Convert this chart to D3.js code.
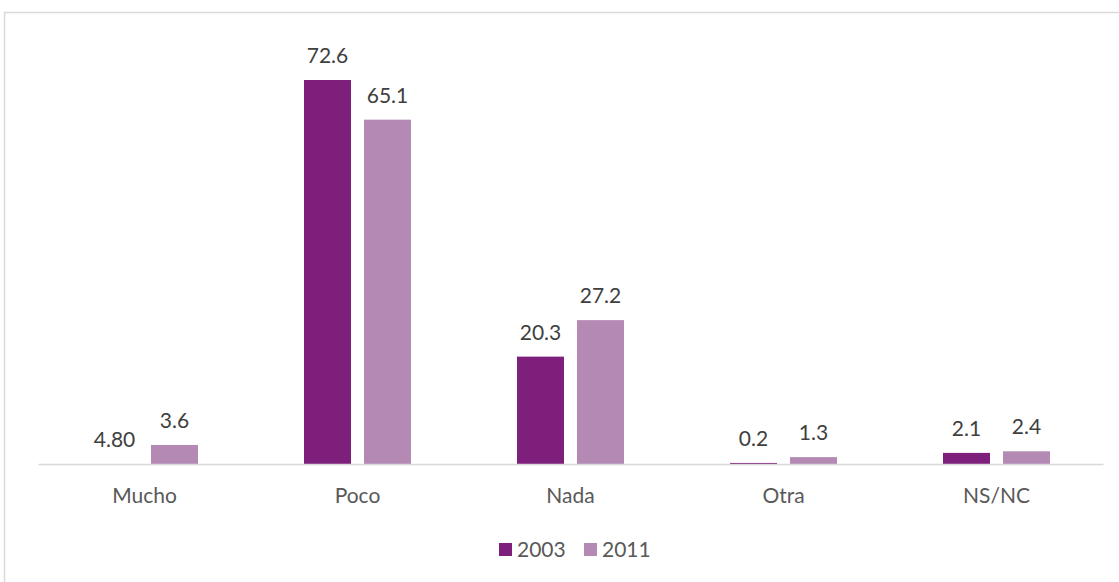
<!DOCTYPE html>
<html><head><meta charset="utf-8">
<script src="https://cdn.jsdelivr.net/npm/d3@7"></script>
<style>body{margin:0;background:#fff}svg{display:block}</style>
</head><body>
<svg id="chart" width="1119" height="582"></svg>
<script>
const categories = ["Mucho", "Poco", "Nada", "Otra", "NS/NC"];
const seriesNames = ["2003", "2011"];
const values2003 = [0, 72.6, 20.3, 0.2, 2.1];
const values2011 = [3.6, 65.1, 27.2, 1.3, 2.4];
const labels2003 = ["4.80", "72.6", "20.3", "0.2", "2.1"];
const labels2011 = ["3.6", "65.1", "27.2", "1.3", "2.4"];
const colors = ["#7F1F7C", "#B48AB5"];

(function () {
const svg = d3.select("#chart");
const font = "Lato, 'Open Sans', sans-serif";

svg.append("rect").attr("x", 4.5).attr("y", 12.5).attr("width", 1130).attr("height", 600)
  .attr("fill", "none").attr("stroke", "#d9d9d9").attr("stroke-width", 1.5);

const left = 38, right = 1103, base = 464, plotTop = 80;
const x = d3.scaleBand().domain(categories).range([left, right]);
const x1 = d3.scaleBand().domain(seriesNames).range([0, 107]).paddingInner(13/60);
const y = d3.scaleLinear().domain([0, 72.6]).range([base, plotTop]);

const series = [values2003, values2011];
const labels = [labels2003, labels2011];

const data = [];
categories.forEach((c, i) => seriesNames.forEach((s, j) => data.push({c, s, j, v: series[j][i], l: labels[j][i]})));

const gx = (d) => x(d.c) + x.bandwidth()/2 - 53.5 + x1(d.s);

svg.selectAll("rect.bar").data(data).join("rect").attr("class", "bar")
  .attr("x", gx).attr("width", x1.bandwidth())
  .attr("y", d => y(d.v)).attr("height", d => base - y(d.v))
  .attr("fill", d => colors[d.j]);

svg.selectAll("text.val").data(data).join("text").attr("class", "val")
  .attr("x", d => gx(d) + x1.bandwidth()/2).attr("y", d => y(d.v) - 17)
  .attr("text-anchor", "middle").attr("font-family", font).attr("font-size", 21)
  .attr("fill", "#404040").text(d => d.l);

const axis = svg.append("g").attr("transform", `translate(0,${base})`)
  .call(d3.axisBottom(x).tickSize(0).tickPadding(24));
axis.select(".domain").attr("stroke", "#d9d9d9").attr("stroke-width", 1.5);
axis.selectAll("text").attr("font-family", font).attr("font-size", 21).attr("fill", "#595959");

const legend = svg.append("g");
const lx = [499, 584];
seriesNames.forEach((s, j) => {
  legend.append("rect").attr("x", lx[j]).attr("y", 543).attr("width", 13).attr("height", 13).attr("fill", colors[j]);
  legend.append("text").attr("x", lx[j] + 18).attr("y", 557).attr("font-family", font).attr("font-size", 21)
    .attr("fill", "#595959").text(s);
});
})();
</script>
</body></html>
